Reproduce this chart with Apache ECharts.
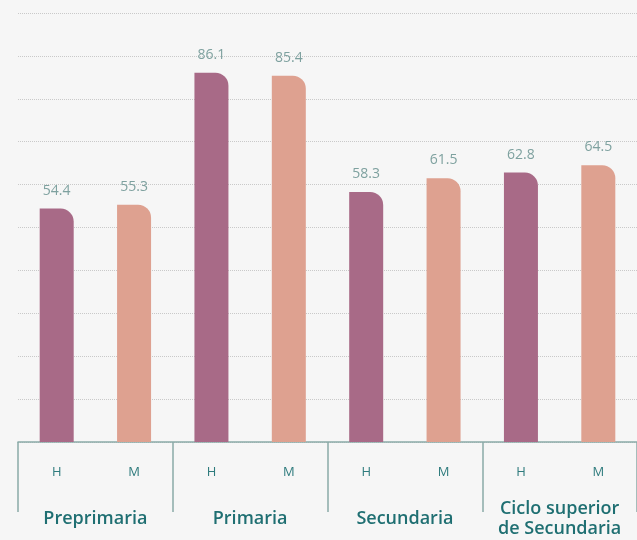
<!DOCTYPE html>
<html>
<head>
<meta charset="utf-8">
<script src="https://cdn.jsdelivr.net/npm/echarts@6/dist/echarts.min.js"></script>
<style>
  html, body { margin: 0; padding: 0; background: #f6f6f6; }
  #chart { width: 637px; height: 540px; }
</style>
</head>
<body>
<div id="chart"></div>
<script>
var sexLabels = ["H", "M", "H", "M", "H", "M", "H", "M"]
var levels = ["Preprimaria", "Primaria", "Secundaria", "Ciclo superior\nde Secundaria"]
var values = [54.4, 55.3, 86.1, 85.4, 58.3, 61.5, 62.8, 64.5]

var colorH = "#a86a87"
var colorM = "#dea190"
var teal = "#1f6f72"
var axisColor = "#8aaba8"

var chart = echarts.init(document.getElementById("chart"))

// cada barra toma el color segun H / M
var barData = values.map(function (v, i) {
  return {
    value: v,
    itemStyle: { color: sexLabels[i] === "H" ? colorH : colorM }
  }
})

var option = {
  backgroundColor: "#f6f6f6",
  animation: false,
  textStyle: { fontFamily: "'Open Sans', 'Noto Sans', sans-serif" },
  grid: { left: 18, width: 620, top: 13, bottom: 98 },
  xAxis: [
    {
      type: "category",
      data: sexLabels,
      axisLine: { show: true, lineStyle: { color: axisColor, width: 1.5 } },
      axisTick: { show: false },
      axisLabel: {
        interval: 0,
        color: "#2e7b7d",
        fontSize: 13,
        margin: 30,
        verticalAlign: "middle"
      }
    },
    {
      type: "category",
      position: "bottom",
      data: levels,
      axisLine: { show: false },
      axisTick: { show: true, interval: 0, length: 70, lineStyle: { color: axisColor, width: 1.5 } },
      axisLabel: {
        interval: 0,
        hideOverlap: false,
        color: teal,
        fontSize: 18,
        fontWeight: 600,
        lineHeight: 20,
        margin: 77,
        verticalAlign: "middle"
      }
    }
  ],
  yAxis: {
    type: "value",
    min: 0,
    max: 100,
    interval: 10,
    axisLabel: { show: false },
    axisLine: { show: false },
    axisTick: { show: false },
    splitLine: { lineStyle: { color: "#c9c9c9", type: "dotted", width: 1 } }
  },
  series: [
    {
      type: "bar",
      xAxisIndex: 0,
      data: barData,
      barWidth: 34,
      itemStyle: { borderRadius: [0, 13, 0, 0] },
      label: {
        show: true,
        position: "top",
        distance: 11,
        color: "#7ea19f",
        fontSize: 14,
        formatter: function (p) { return p.value.toFixed(1) }
      }
    }
  ]
}

chart.setOption(option)
</script>
</body>
</html>
